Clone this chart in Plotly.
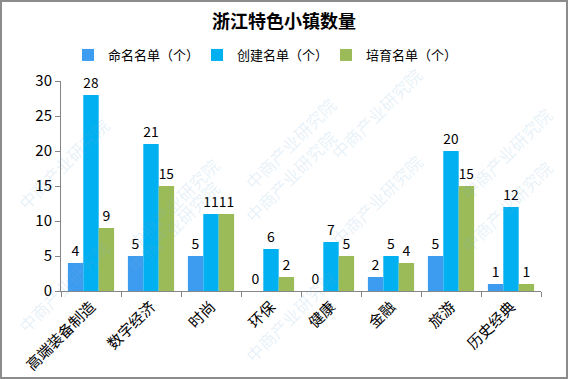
import plotly.graph_objects as go

categories = ["高端装备制造", "数字经济", "时尚", "环保", "健康", "金融", "旅游", "历史经典"]
named = [4, 5, 5, 0, 0, 2, 5, 1]
created = [28, 21, 11, 6, 7, 5, 20, 12]
cultivated = [9, 15, 11, 2, 5, 4, 15, 1]
series_names = ["命名名单（个）", "创建名单（个）", "培育名单（个）"]
colors = ["#3D9CF0", "#00B0F0", "#9BBB59"]

FONT = "Noto Sans CJK SC"

fig = go.Figure()
for name, vals, c in zip(series_names, [named, created, cultivated], colors):
    fig.add_trace(go.Bar(
        x=categories, y=vals, name=name, marker_color=c, marker_line_width=0,
        text=vals, textposition="outside", cliponaxis=False,
        textfont=dict(size=14, color="#000000", family=FONT),
    ))

L, R, T, B = 61, 27, 81, 88
pw, ph = 568 - L - R, 379 - T - B

shapes = [dict(type="rect", xref="paper", yref="paper",
               x0=-(L - 1) / pw, x1=(568 - L - 1) / pw,
               y0=-(B - 1) / ph, y1=(379 - B - 1) / ph,
               line=dict(color="#8C8C8C", width=2), fillcolor="rgba(0,0,0,0)", layer="above")]

# faint watermarks
annotations = []
wm_positions = [(120, 150), (120, 280), (290, 90), (290, 230), (430, 60), (430, 200),
                (560, 100), (560, 260), (10, 110), (10, 340), (290, 370)]
for (px, py) in wm_positions:
    annotations.append(dict(
        text="中商产业研究院", xref="paper", yref="paper",
        x=(px - L) / pw, y=(379 - B - py) / ph, showarrow=False, textangle=-45,
        font=dict(size=17, color="rgba(120,175,215,0.18)", family=FONT)))

fig.update_layout(
    width=568, height=379,
    margin=dict(l=L, r=R, t=T, b=B),
    paper_bgcolor="white", plot_bgcolor="white",
    title=dict(text="<b>浙江特色小镇数量</b>", x=0.5, xanchor="center", y=1 - 22 / 379, yanchor="middle",
               font=dict(size=18, color="#000000", family=FONT)),
    legend=dict(orientation="h", x=(68 - L) / pw, xanchor="left", y=1 + (T - 55) / ph, yanchor="middle",
                font=dict(size=13, color="#000000", family=FONT), itemwidth=30,
                entrywidth=84, entrywidthmode="pixels",
                traceorder="normal"),
    barmode="group", bargap=0.23, bargroupgap=0,
    xaxis=dict(showline=True, linecolor="#868686", linewidth=1, ticks="outside", ticklen=5,
               tickcolor="#868686", tickson="boundaries", tickangle=-45, automargin=False,
               tickfont=dict(size=15, color="#000000", family=FONT), showgrid=False),
    yaxis=dict(range=[0, 30], dtick=5, showline=True, linecolor="#868686", linewidth=1,
               ticks="outside", ticklen=5, tickcolor="#868686", showgrid=False, zeroline=False,
               automargin=False,
               tickfont=dict(size=15, color="#000000", family=FONT)),
    shapes=shapes, annotations=annotations,
)

fig.write_html("out.html", config={"displayModeBar": False},
               post_script="document.body.style.margin='0px';document.body.style.overflow='hidden';")
